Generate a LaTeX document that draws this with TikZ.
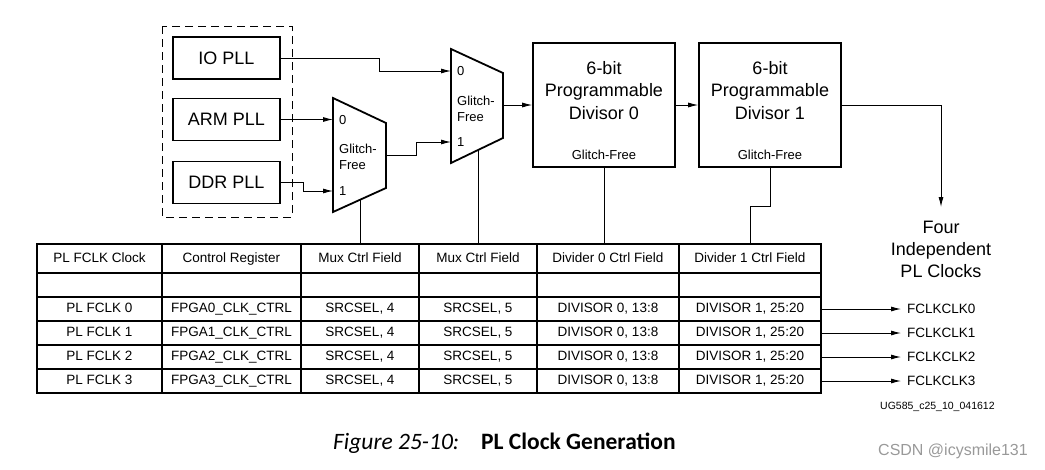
\documentclass[tikz,border=0pt]{standalone}
\usepackage{fontspec}
\setmainfont{Liberation Sans}
\newfontfamily\capfont{Carlito}
\usetikzlibrary{arrows.meta,positioning,calc}

\tikzset{
  pllbox/.style={draw, line width=1.6pt, minimum width=107pt, minimum height=42pt,
                 inner sep=0pt, font=\fontsize{18}{22}\selectfont},
  divbox/.style={draw, line width=1.6pt, minimum width=142pt, minimum height=124pt, inner sep=0pt},
  divtop/.style={anchor=north, align=center, inner sep=0pt, yshift=-19pt,
                 font=\fontsize{18}{22.5}\selectfont},
  glitch/.style={anchor=south, inner sep=0pt, yshift=8pt, font=\fontsize{13}{16}\selectfont},
  muxline/.style={line width=1.8pt, line join=miter},
  muxlbl/.style={anchor=west, inner sep=0pt, align=left, font=\fontsize{13}{16}\selectfont},
  cell/.style={draw, line width=1.6pt, inner sep=0pt, text height=10pt, text depth=3pt,
               font=\fontsize{13.5}{16}\selectfont},
  sig/.style={line width=0.9pt, -{Latex[length=10pt,width=5pt]}},
  ctl/.style={line width=0.9pt},
  outlbl/.style={anchor=west, inner xsep=6pt, inner ysep=0pt, font=\fontsize{13.5}{16}\selectfont}
}

\begin{document}
\begin{tikzpicture}[x=1pt, y=-1pt]
  \useasboundingbox (0,0) rectangle (1045,469);

  % PLL sources
  \draw[line width=0.9pt, dash pattern=on 8pt off 5pt] (162,26) rectangle (292,217);
  \node[pllbox] (io)  at (226.5,58)    {IO PLL};
  \node[pllbox] (arm) at (226.5,119.5) {ARM PLL};
  \node[pllbox] (ddr) at (226.5,182.5) {DDR PLL};

  % first mux
  \draw[muxline] (333,98) -- (386,123) -- (386,188) -- (333,212) -- cycle;
  \coordinate (m1in0) at (333,119.5);
  \coordinate (m1in1) at (333,191);
  \coordinate (m1out) at (386,155);
  \coordinate (m1ctl) at (360,200);
  \node[muxlbl] (m1zero) at (339,120.5) {0};
  \node[muxlbl] (m1gf)   at (339,157)   {Glitch-\\Free};
  \node[muxlbl] (m1one)  at (339,191.5) {1};

  % second mux
  \draw[muxline] (451,49) -- (503,73) -- (503,138) -- (451,163) -- cycle;
  \coordinate (m2in0) at (451,71);
  \coordinate (m2in1) at (451,142);
  \coordinate (m2out) at (503,105);
  \coordinate (m2ctl) at (478,150);
  \node[muxlbl] (m2zero) at (457,71)    {0};
  \node[muxlbl] (m2gf)   at (457,108.5) {Glitch-\\Free};
  \node[muxlbl] (m2one)  at (457,142)   {1};

  % divisors
  \node[divbox, label={[divtop]north:6-bit\\Programmable\\Divisor 0},
        label={[glitch]south:Glitch-Free}] (div0) at (604,105) {};
  \node[divbox, label={[divtop]north:6-bit\\Programmable\\Divisor 1},
        label={[glitch]south:Glitch-Free}] (div1) at (770,105) {};

  \node[anchor=north, align=center, inner xsep=2pt, inner ysep=14pt,
        font=\fontsize{18}{22}\selectfont] (four) at (941,207)
        {Four\\Independent\\PL Clocks};

  % clock path
  \draw[sig] (arm.east) -- (m1in0);
  \draw[sig] (ddr.east) -- ++(23,0) |- (m1in1);
  \draw[sig] (io.east) -- ++(99,0) |- (m2in0);
  \draw[sig] (m1out) -- ++(30,0) |- (m2in1);
  \draw[sig] (m2out) -- (div0.west);
  \draw[sig] (div0.east) -- (div1.west);
  \draw[sig] (div1.east) -| (four.north);

  % register table
  \foreach \cx/\cw/\head/\cell [count=\c] in {
      99.5/125/PL FCLK Clock/PL FCLK \row,
      231.5/139/Control Register/FPGA\row\_CLK\_CTRL,
      360/118/Mux Ctrl Field/{SRCSEL, 4},
      478/118/Mux Ctrl Field/{SRCSEL, 5},
      608/142/Divider 0 Ctrl Field/{DIVISOR 0, 13:8},
      750/142/Divider 1 Ctrl Field/{DIVISOR 1, 25:20}} {
    \node[cell, minimum width=\cw pt, minimum height=29pt] (h\c) at (\cx,258.5) {\head};
    \node[cell, minimum width=\cw pt, minimum height=24pt] (b\c) at (\cx,285) {};
    \foreach \row in {0,...,3}
      \node[cell, minimum width=\cw pt, minimum height=24pt] (c\row-\c) at (\cx,309+24*\row) {\cell};
  }

  % control fields
  \draw[ctl] (m1ctl) -- (h3.north);
  \draw[ctl] (m2ctl) -- (h4.north);
  \draw[ctl] (div0.south) -- (div0.south |- h5.north);
  \draw[ctl] (div1.south) -- ++(0,39) -| (h6.north);

  % outputs
  \foreach \row in {0,...,3} {
    \node[outlbl] (f\row) at (901,309+24*\row) {FCLKCLK\row};
    \draw[sig] (c\row-6.east) -- (f\row.west);
  }

  \node[anchor=base west, inner sep=0pt, font=\fontsize{10.5}{12}\selectfont] (ugref) at (880,409)
       {UG585\_c25\_10\_041612};

  % caption
  \node[anchor=base west, inner sep=0pt, font=\capfont\fontsize{23.5}{26}\selectfont\itshape] (fignum)
       at (333,449) {Figure 25-10:};
  \node[anchor=base west, inner sep=0pt, font=\capfont\fontsize{23.5}{26}\selectfont\bfseries] (figttl)
       at (481,449) {PL Clock Generation};

  \node[anchor=base west, inner sep=0pt, text=black!40, font=\fontsize{16}{18}\selectfont] (mark)
       at (878,455) {CSDN @icysmile131};
\end{tikzpicture}
\end{document}
